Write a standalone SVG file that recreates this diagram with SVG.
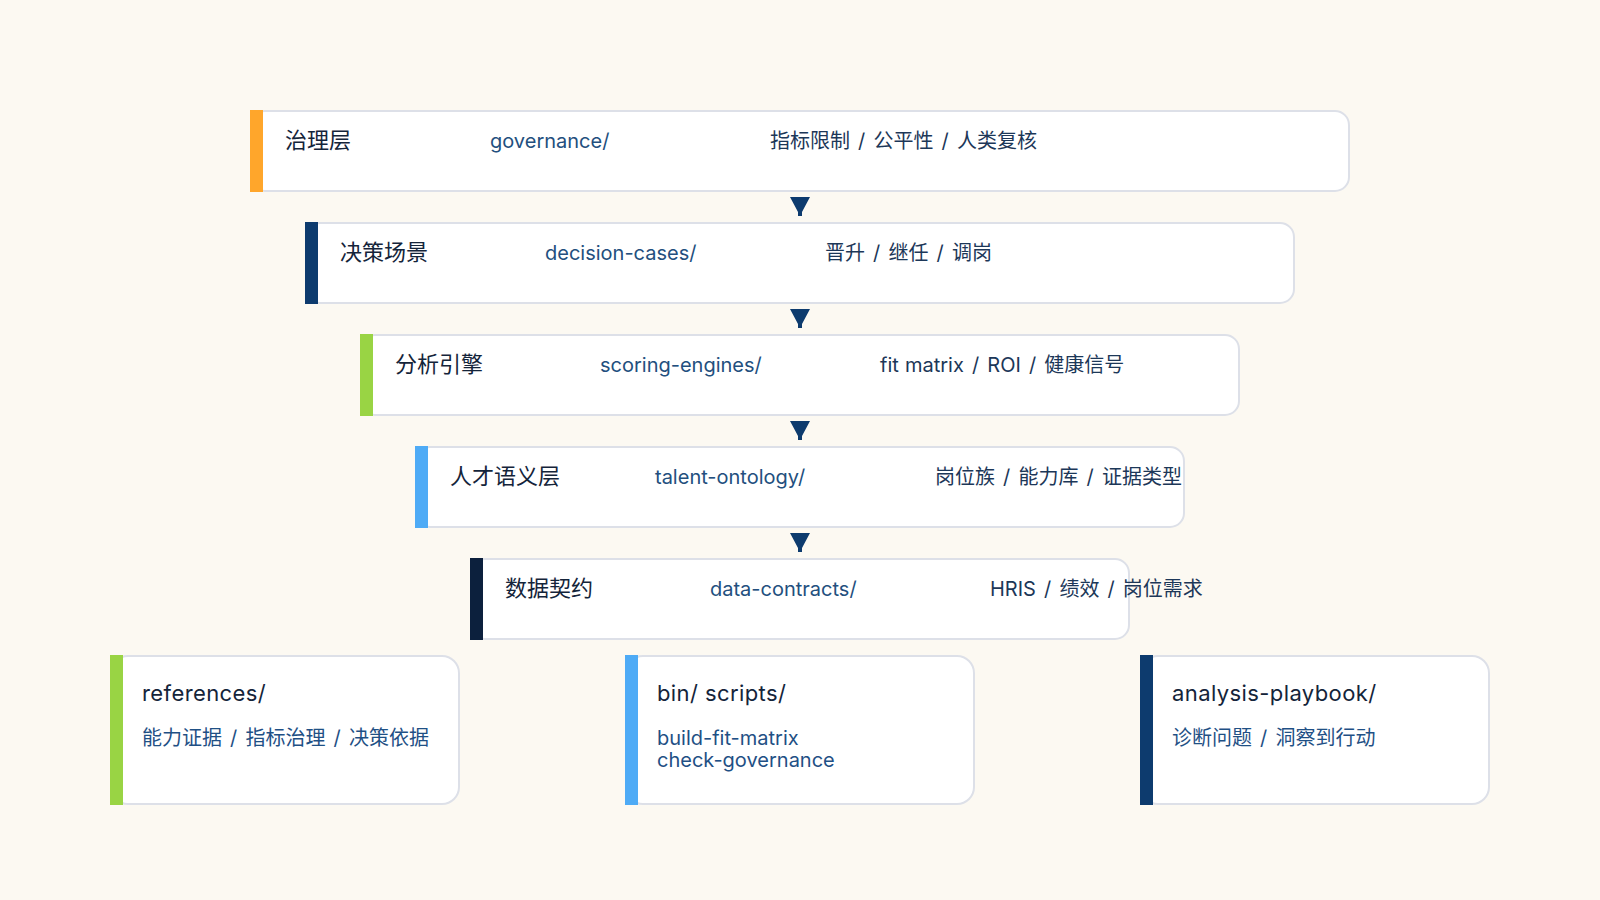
<svg xmlns="http://www.w3.org/2000/svg" width="1600" height="900" viewBox="0 0 1600 900">
<style>
.box{fill:#ffffff;stroke:#dde0e8;stroke-width:2}
.t{font-family:Inter,"Noto Sans CJK SC",sans-serif;font-size:22px;fill:#14243a}
.tl{letter-spacing:0.4px}
.p{font-family:Inter,"Noto Sans CJK SC",sans-serif;font-size:20px;fill:#234f7e}
.d{font-family:Inter,"Noto Sans CJK SC",sans-serif;font-size:20px;fill:#1c3758;word-spacing:2.5px}
.s{font-family:Inter,"Noto Sans CJK SC",sans-serif;font-size:20px;fill:#1f5085;word-spacing:2.5px}
.arr{fill:#0d3b6e}
</style>
<rect width="1600" height="900" fill="#fcf9f2"/>
<g id="governance">
<rect class="box" x="251" y="111" width="1098" height="80" rx="14"/>
<rect x="250" y="110" width="13" height="82" fill="#ffa62b"/>
<text class="t" x="285" y="148">治理层</text>
<text class="p" x="490" y="148">governance/</text>
<text class="d" x="770" y="148">指标限制 / 公平性 / 人类复核</text>
</g>
<g id="decision-cases">
<rect class="box" x="306" y="223" width="988" height="80" rx="14"/>
<rect x="305" y="222" width="13" height="82" fill="#0d3b6e"/>
<text class="t" x="340" y="260">决策场景</text>
<text class="p" x="545" y="260">decision-cases/</text>
<text class="d" x="825" y="260">晋升 / 继任 / 调岗</text>
</g>
<g id="scoring-engines">
<rect class="box" x="361" y="335" width="878" height="80" rx="14"/>
<rect x="360" y="334" width="13" height="82" fill="#99d444"/>
<text class="t" x="395" y="372">分析引擎</text>
<text class="p" x="600" y="372">scoring-engines/</text>
<text class="d" x="880" y="372"><tspan style="word-spacing:0.5px">fit matrix</tspan> / ROI / 健康信号</text>
</g>
<g id="talent-ontology">
<rect class="box" x="416" y="447" width="768" height="80" rx="14"/>
<rect x="415" y="446" width="13" height="82" fill="#4eabf6"/>
<text class="t" x="450" y="484">人才语义层</text>
<text class="p" x="655" y="484">talent-ontology/</text>
<text class="d" x="935" y="484">岗位族 / 能力库 / 证据类型</text>
</g>
<g id="data-contracts">
<rect class="box" x="471" y="559" width="658" height="80" rx="14"/>
<rect x="470" y="558" width="13" height="82" fill="#0c203d"/>
<text class="t" x="505" y="596">数据契约</text>
<text class="p" x="710" y="596">data-contracts/</text>
<text class="d" x="990" y="596">HRIS / 绩效 / 岗位需求</text>
</g>
<g id="references">
<rect class="box" x="111" y="656" width="348" height="148" rx="17"/>
<rect x="110" y="655" width="13" height="150" fill="#99d444"/>
<text class="t tl" x="142" y="701">references/</text>
<text class="s" x="142" y="745">能力证据 / 指标治理 / 决策依据</text>
</g>
<g id="scripts">
<rect class="box" x="626" y="656" width="348" height="148" rx="17"/>
<rect x="625" y="655" width="13" height="150" fill="#4eabf6"/>
<text class="t tl" x="657" y="701">bin/ scripts/</text>
<text class="s" x="657" y="745">build-fit-matrix</text>
<text class="s" x="657" y="767">check-governance</text>
</g>
<g id="analysis-playbook">
<rect class="box" x="1141" y="656" width="348" height="148" rx="17"/>
<rect x="1140" y="655" width="13" height="150" fill="#0d3b6e"/>
<text class="t tl" x="1172" y="701">analysis-playbook/</text>
<text class="s" x="1172" y="745">诊断问题 / 洞察到行动</text>
</g>
<g id="connectors">
<polygon class="arr" points="790,197 810,197 802,212 802,216 798,216 798,212"/>
<polygon class="arr" points="790,309 810,309 802,324 802,328 798,328 798,324"/>
<polygon class="arr" points="790,421 810,421 802,436 802,440 798,440 798,436"/>
<polygon class="arr" points="790,533 810,533 802,548 802,552 798,552 798,548"/>
</g>
</svg>
